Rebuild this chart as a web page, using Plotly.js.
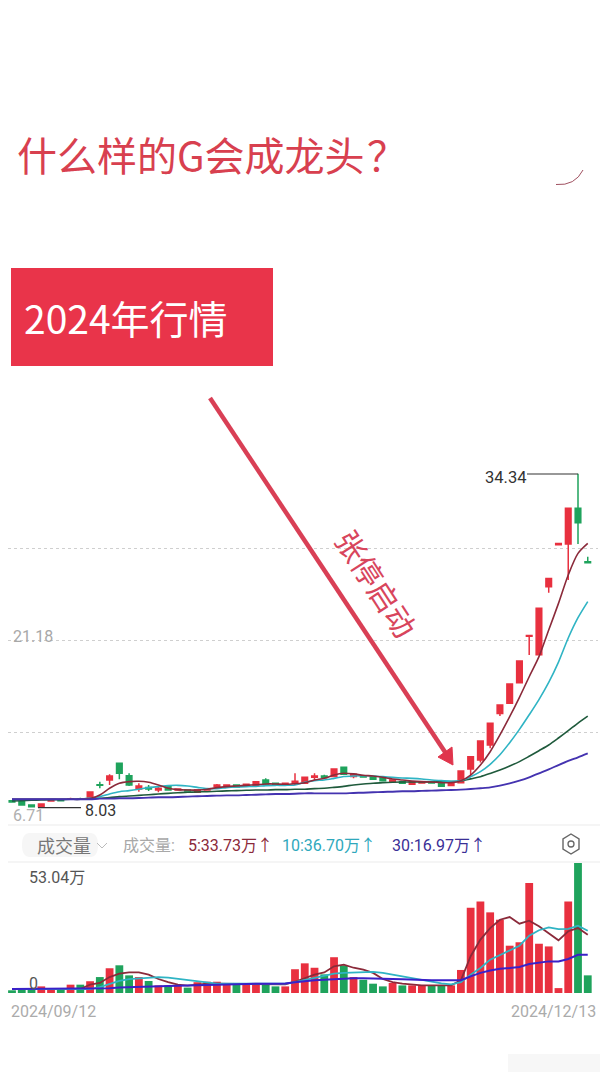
<!DOCTYPE html>
<html><head><meta charset="utf-8">
<script src="https://cdn.plot.ly/plotly-3.0.1.min.js"></script>
<style>html,body{margin:0;padding:0;background:#fff}#c{width:608px;height:1080px}</style>
</head><body><div id="c"></div>
<script>
const tradingDays=["2024/09/12","2024/09/13","2024/09/18","2024/09/19","2024/09/20","2024/09/23","2024/09/24","2024/09/25","2024/09/26","2024/09/27","2024/09/30","2024/10/08","2024/10/09","2024/10/10","2024/10/11","2024/10/14","2024/10/15","2024/10/16","2024/10/17","2024/10/18","2024/10/21","2024/10/22","2024/10/23","2024/10/24","2024/10/25","2024/10/28","2024/10/29","2024/10/30","2024/10/31","2024/11/01","2024/11/04","2024/11/05","2024/11/06","2024/11/07","2024/11/08","2024/11/11","2024/11/12","2024/11/13","2024/11/14","2024/11/15","2024/11/18","2024/11/19","2024/11/20","2024/11/21","2024/11/22","2024/11/25","2024/11/26","2024/11/27","2024/11/28","2024/11/29","2024/12/02","2024/12/03","2024/12/04","2024/12/05","2024/12/06","2024/12/09","2024/12/10","2024/12/11","2024/12/12","2024/12/13"];
const opens=[8.58,8.50,8.24,8.11,8.55,8.62,8.69,8.74,8.77,9.84,10.21,11.53,10.55,9.50,9.61,9.42,9.69,9.42,9.42,9.24,9.42,9.69,9.71,9.82,9.74,9.79,10.21,9.95,9.87,9.95,9.95,10.42,10.53,10.48,11.21,10.48,10.55,10.48,10.40,10.08,10.08,9.87,9.98,10.03,9.95,9.77,10.00,11.08,11.79,12.97,15.46,16.25,17.88,21.54,20.09,25.45,28.76,28.81,31.62,27.42];
const highs=[8.64,8.53,8.27,8.35,8.64,8.66,8.82,8.82,9.30,10.08,10.66,11.55,10.74,9.95,9.82,9.69,9.72,9.53,9.45,9.45,9.53,9.90,9.85,9.85,9.90,10.10,10.34,9.98,9.98,10.74,10.45,10.74,10.63,11.10,11.23,10.74,10.60,10.50,10.42,10.24,10.10,10.10,10.05,10.05,9.98,10.03,10.94,12.08,13.30,14.70,16.14,17.80,19.61,21.64,23.76,26.12,28.88,31.64,34.34,27.81];
const lows=[8.45,8.20,8.08,8.03,8.50,8.52,8.64,8.64,8.74,9.56,9.82,10.26,9.74,9.29,9.35,9.24,9.40,9.40,9.32,9.22,9.40,9.50,9.69,9.64,9.71,9.76,9.82,9.85,9.85,9.82,9.92,10.21,10.26,10.46,10.63,10.34,10.40,10.24,10.13,10.05,9.92,9.85,9.95,9.95,9.69,9.74,9.98,10.61,11.58,12.71,15.25,16.23,17.86,20.06,20.07,24.97,28.74,25.97,28.81,27.34];
const closes=[8.48,8.24,8.11,8.32,8.60,8.58,8.74,8.69,9.27,9.79,10.53,10.74,9.82,9.74,9.50,9.56,9.42,9.50,9.35,9.42,9.50,9.82,9.82,9.66,9.87,10.08,9.90,9.87,9.95,10.11,10.42,10.53,10.42,11.08,10.66,10.66,10.45,10.26,10.16,10.21,9.95,10.08,10.03,9.98,9.71,10.00,10.92,12.05,13.28,14.68,16.12,17.78,19.59,21.59,23.74,26.10,28.86,31.62,30.49,27.34];
const priceMa5=[8.69,8.69,8.69,8.69,8.69,8.69,8.69,8.69,8.74,9.03,9.56,9.95,10.08,10.11,10.03,9.82,9.56,9.45,9.42,9.42,9.48,9.61,9.69,9.74,9.79,9.84,9.90,9.90,9.87,9.92,10.00,10.21,10.34,10.61,10.74,10.69,10.58,10.53,10.42,10.29,10.21,10.13,10.08,10.05,10.00,10.00,10.16,10.60,11.39,12.44,13.76,15.20,16.73,18.35,19.93,22.03,24.13,26.37,28.07,28.86];
const priceMa10=[8.69,8.69,8.69,8.69,8.69,8.69,8.69,8.69,8.79,8.90,9.11,9.29,9.37,9.48,9.61,9.69,9.77,9.79,9.74,9.63,9.53,9.53,9.61,9.66,9.69,9.71,9.77,9.79,9.79,9.82,10.03,10.16,10.21,10.34,10.48,10.53,10.55,10.53,10.48,10.42,10.37,10.34,10.29,10.21,10.16,10.11,10.16,10.47,10.87,11.45,12.20,13.15,14.20,15.35,16.55,17.90,19.50,21.40,23.00,24.27];
const priceMa20=[8.56,8.58,8.61,8.64,8.66,8.66,8.69,8.69,8.71,8.77,8.82,8.90,8.95,9.00,9.05,9.11,9.16,9.21,9.24,9.27,9.29,9.32,9.35,9.37,9.40,9.42,9.42,9.45,9.45,9.48,9.48,9.53,9.56,9.63,9.71,9.82,9.90,9.95,10.00,10.03,10.05,10.05,10.05,10.05,10.08,10.08,10.13,10.30,10.47,10.72,11.00,11.31,11.66,12.08,12.52,12.97,13.52,14.10,14.70,15.25];
const priceMa30=[8.69,8.69,8.69,8.69,8.69,8.69,8.69,8.69,8.69,8.74,8.74,8.77,8.77,8.79,8.82,8.85,8.85,8.87,8.90,8.93,8.95,8.98,9.00,9.00,9.03,9.05,9.08,9.11,9.11,9.13,9.16,9.16,9.16,9.16,9.16,9.19,9.21,9.24,9.27,9.29,9.32,9.32,9.35,9.37,9.40,9.42,9.45,9.50,9.56,9.63,9.77,9.95,10.16,10.42,10.74,11.05,11.39,11.71,12.00,12.31];
const volumes=[1.1,1.6,1.6,2.7,1.6,1.6,3.4,3.4,4.8,6.5,10.1,11.3,7.2,6.5,4.9,3.1,3.1,3.1,2.2,4.4,4.6,4.6,3.8,4.1,3.8,4.1,3.8,2.7,2.7,9.7,12.1,10.3,7.6,14.6,11.3,6.5,5.4,3.8,2.7,4.1,3.1,3.1,3.1,3.1,3.1,3.1,9.4,34.8,37.3,32.9,29.9,19.3,20.7,44.9,20.1,19.0,2.0,37.3,53.04,7.2];
const volMa5=[1.6,1.6,1.6,1.6,1.6,1.6,1.6,1.6,3.4,4.1,6.5,7.9,8.4,8.4,7.5,5.7,4.4,3.4,3.0,3.5,3.8,3.8,3.8,3.8,3.8,3.8,3.8,3.7,3.5,4.6,6.1,7.5,8.4,10.9,11.6,10.3,9.5,8.2,5.7,4.4,3.8,3.3,3.1,3.1,3.1,3.1,5.2,15.0,21.8,26.5,29.9,31.0,28.3,29.5,27.2,24.2,21.5,25.2,26.5,23.8];
const volMa10=[1.6,1.6,1.6,1.6,1.6,1.6,1.6,1.6,1.6,2.4,3.8,4.9,5.7,6.0,6.3,6.5,6.3,5.8,5.4,4.9,4.2,3.8,3.8,3.8,3.8,3.8,3.8,3.8,3.8,4.4,5.2,6.1,7.1,7.9,8.2,8.4,8.6,8.6,8.2,7.5,6.5,6.0,5.2,4.5,3.9,3.5,4.4,7.5,10.2,13.6,15.6,17.4,19.3,23.4,25.6,26.8,26.1,26.2,27.5,25.4];
const volMa30=[1.6,1.6,1.6,1.6,1.6,1.6,1.6,1.6,1.6,1.6,1.9,2.2,2.4,2.6,2.7,2.7,2.9,3.0,3.1,3.3,3.4,3.5,3.7,3.7,3.8,3.8,3.8,3.8,3.9,4.4,4.9,5.2,5.4,5.7,5.8,6.0,6.0,6.0,5.8,5.7,5.6,5.4,5.3,5.2,5.2,5.2,5.2,6.8,8.2,9.2,9.9,10.2,10.6,11.8,12.5,12.9,12.9,13.9,15.6,15.6];
const gridPrices=[13.92,21.18,28.49];
const cRed="#E8303F",cGreen="#1FA35C",cMa5="#8B2A3A",cMa10="#2FB4C4",cMa20="#1F5A3C",cMa30="#4433B0";
const barColors=closes.map((v,i)=>v>=opens[i]?cRed:cGreen);
const W=608,H=1080,X=p=>p/W,Y=p=>1-p/H;
const FN="Roboto, 'Noto Sans CJK SC', sans-serif",CJK="'Noto Sans CJK SC', sans-serif";
const maLine=(y,color,width,axis,shape)=>({type:"scatter",mode:"lines",x:tradingDays,y:y,yaxis:axis,line:{color:color,width:width,shape:shape||"spline",smoothing:0.8},hoverinfo:"skip"});
const traces=[
 {type:"candlestick",x:tradingDays,open:opens,high:highs,low:lows,close:closes,yaxis:"y",whiskerwidth:0,
  increasing:{line:{color:cRed,width:1.5},fillcolor:cRed},decreasing:{line:{color:cGreen,width:1.5},fillcolor:cGreen},hoverinfo:"skip"},
 maLine(priceMa20,cMa20,1.6,"y"),maLine(priceMa10,cMa10,1.6,"y"),maLine(priceMa5,cMa5,1.6,"y"),maLine(priceMa30,cMa30,1.9,"y"),
 {type:"bar",x:tradingDays,y:volumes,yaxis:"y2",marker:{color:barColors,line:{width:0}},width:0.8,hoverinfo:"skip"},
 maLine(volMa5,cMa5,1.8,"y2","linear"),maLine(volMa10,cMa10,1.8,"y2","linear"),maLine(volMa30,"#3A20C8",2,"y2","linear")
];
const ann=(text,px,py,size,color,anchor,extra)=>Object.assign({xref:"paper",yref:"paper",x:X(px),y:Y(py),text:text,showarrow:false,borderpad:0,xanchor:anchor||"left",yanchor:"middle",font:{size:size,color:color,family:FN}},extra||{});
const annotations=[
 ann("什么样的G会成龙头\u200A？",16,154,40,"#D8404F","left",{font:{size:40,color:"#D8404F",family:CJK}}),
 ann("2024年行情",23,317,39,"#FFFFFF","left",{font:{size:39,color:"#FFFFFF",family:CJK}}),
 ann("张停启动",377,583,30,"#D8455C","center",{textangle:57,font:{size:30,color:"#D8455C",family:CJK}}),
 ann("34.34",484,477,16.5,"#333333"),
 ann("21.18",12,636,16,"#A8A8A8"),
 ann("8.03",84,810,16,"#333333"),
 ann("6.71",12,815,16,"#B0B0B0"),
 ann("成交量",36,845,18,"#777777","left",{font:{size:18,color:"#777777",family:CJK}}),
 ann("成交量:",122,845,16,"#A8A8A8","left",{font:{size:16,color:"#A8A8A8",family:FN}}),
 ann("5:33.73万↑",187,845,16,"#8B2A3A"),
 ann("10:36.70万↑",281,845,16,"#2FA8BC"),
 ann("30:16.97万↑",391,845,16,"#3A2F96"),
 ann("53.04万",28,877,16,"#555555"),
 ann("0",28,983,16,"#555555"),
 ann("2024/09/12",10,1011,16,"#ABABAB"),
 ann("2024/12/13",597,1011,16,"#ABABAB","right")
];
const poly=pts=>"M"+pts.map(p=>X(p[0])+" "+Y(p[1])).join("L")+"Z";
const shapes=[
 {type:"rect",xref:"paper",yref:"paper",x0:X(11),x1:X(273),y0:Y(366),y1:Y(268),fillcolor:"#E9344A",line:{width:0},layer:"below"},
 {type:"line",xref:"paper",yref:"paper",x0:X(210),y0:Y(398),x1:X(447),y1:Y(755),line:{color:"#D93F55",width:4.5}},
 {type:"path",xref:"paper",yref:"paper",path:poly([[438,757],[452,747],[453,765]]),fillcolor:"#E0354C",line:{color:"#E0354C",width:1}},
 {type:"path",xref:"paper",yref:"paper",path:"M"+X(556)+" "+Y(184.5)+"Q"+X(575)+" "+Y(186)+" "+X(583)+" "+Y(170),line:{color:"#A05060",width:1}},
 {type:"line",xref:"paper",yref:"paper",x0:X(8),x1:X(600),y0:Y(825),y1:Y(825),line:{color:"#ECECEC",width:1.2}},
 {type:"line",xref:"paper",yref:"paper",x0:X(8),x1:X(600),y0:Y(862),y1:Y(862),line:{color:"#ECECEC",width:1.2}},
 {type:"path",xref:"paper",yref:"paper",path:"M"+X(30)+" "+Y(833)+"L"+X(90)+" "+Y(833)+"Q"+X(98)+" "+Y(833)+" "+X(98)+" "+Y(845)+"Q"+X(98)+" "+Y(857)+" "+X(90)+" "+Y(857)+"L"+X(30)+" "+Y(857)+"Q"+X(22)+" "+Y(857)+" "+X(22)+" "+Y(845)+"Q"+X(22)+" "+Y(833)+" "+X(30)+" "+Y(833)+"Z",fillcolor:"#F6F6F6",line:{width:0},layer:"below"},
 {type:"path",xref:"paper",yref:"paper",path:"M"+X(97)+" "+Y(843)+"L"+X(102)+" "+Y(848)+"L"+X(107)+" "+Y(843),line:{color:"#BBBBBB",width:1}},
 {type:"path",xref:"paper",yref:"paper",path:poly([[571,834],[579,839],[579,849],[571,854],[563,849],[563,839]]),line:{color:"#666666",width:1.4}},
 {type:"circle",xref:"paper",yref:"paper",x0:X(568),x1:X(574),y0:Y(847),y1:Y(841),line:{color:"#666666",width:1.3}},
 {type:"line",xref:"paper",yref:"paper",x0:X(38),x1:X(81),y0:Y(807.7),y1:Y(807.7),line:{color:"#333333",width:1.2}},
 {type:"line",xref:"paper",yref:"paper",x0:X(527),x1:X(578),y0:Y(474),y1:Y(474),line:{color:"#333333",width:1.2}},
 {type:"rect",xref:"paper",yref:"paper",x0:X(508),x1:X(600),y0:Y(1072),y1:Y(1054),fillcolor:"#F7F7F7",line:{width:0},layer:"below"}
];
const layout={width:W,height:H,margin:{l:0,r:0,t:0,b:0,pad:0},paper_bgcolor:"#fff",plot_bgcolor:"rgba(0,0,0,0)",showlegend:false,boxgap:0.18,bargap:0.2,
 xaxis:{type:"category",categoryorder:"trace",domain:[X(8),X(598)],range:[-0.41,60.05],visible:false,fixedrange:true,rangeslider:{visible:false},anchor:"y2"},
 yaxis:{domain:[Y(822),Y(425)],range:[6.90,38.19],tickmode:"array",tickvals:gridPrices,showticklabels:false,ticks:"",showgrid:true,gridcolor:"#CFCFCF",griddash:"dot",gridwidth:1,zeroline:false,showline:false,anchor:"x"},
 yaxis2:{domain:[Y(993),Y(863)],range:[0,53.04],showticklabels:false,ticks:"",showgrid:false,zeroline:false,showline:false,anchor:"x"},
 annotations:annotations,shapes:shapes};
Plotly.newPlot("c",traces,layout,{staticPlot:true,displayModeBar:false});
</script></body></html>
